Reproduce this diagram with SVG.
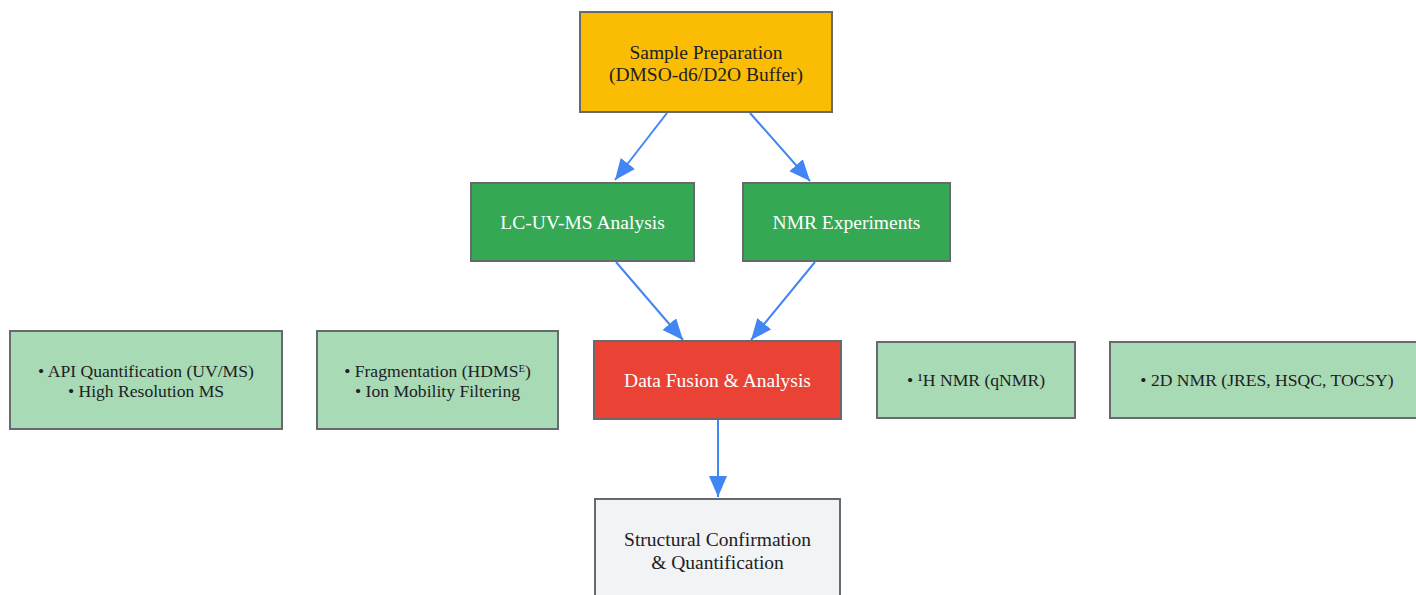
<svg xmlns="http://www.w3.org/2000/svg" width="1416" height="595" viewBox="0 0 1416 595">
<style>
.box{stroke:#666a6e;stroke-width:2}
.t{font-family:"Liberation Serif","Times New Roman",serif;font-size:19.5px;text-anchor:middle;fill:#202124}
.s{font-family:"Liberation Serif","Times New Roman",serif;font-size:17.6px;text-anchor:middle;fill:#202124}
.w{fill:#ffffff}
.edge{stroke:#4285F4;stroke-width:2;fill:none;marker-end:url(#arr)}
</style>
<defs>
<marker id="arr" markerUnits="userSpaceOnUse" markerWidth="24" markerHeight="20" refX="21" refY="9" orient="auto">
<path d="M0,0 L21,9 L0,18 z" fill="#4285F4"/>
</marker>
</defs>
<rect width="1416" height="595" fill="#ffffff"/>
<g id="connectors">
<line class="edge" x1="667" y1="113" x2="615" y2="180"/>
<line class="edge" x1="750" y1="113" x2="810" y2="181"/>
<line class="edge" x1="616" y1="262" x2="683" y2="340"/>
<line class="edge" x1="815" y1="262" x2="751" y2="340"/>
<line class="edge" x1="718" y1="420" x2="718" y2="497"/>
</g>
<g id="sample">
<rect class="box" x="580" y="12" width="252" height="100" fill="#FBBC04"/>
<text class="t" x="706" y="59">Sample Preparation</text>
<text class="t" x="706" y="81">(DMSO-d6/D2O Buffer)</text>
</g>
<g id="lcms">
<rect class="box" x="471" y="183" width="223" height="78" fill="#34A853"/>
<text class="t w" x="582.5" y="229">LC-UV-MS Analysis</text>
</g>
<g id="nmr">
<rect class="box" x="743" y="183" width="207" height="78" fill="#34A853"/>
<text class="t w" x="846.5" y="229">NMR Experiments</text>
</g>
<g id="fusion">
<rect class="box" x="594" y="341" width="247" height="78" fill="#EA4335"/>
<text class="t w" x="717.5" y="387">Data Fusion &amp; Analysis</text>
</g>
<g id="result">
<rect class="box" x="595" y="499" width="245" height="110" fill="#F1F3F4"/>
<text class="t" x="717.5" y="546">Structural Confirmation</text>
<text class="t" x="717.5" y="569">&amp; Quantification</text>
</g>
<g id="lcms-detail1">
<rect class="box" x="10" y="331" width="272" height="98" fill="#A8DAB5"/>
<text class="s" x="146" y="377">• API Quantification (UV/MS)</text>
<text class="s" x="146" y="397">• High Resolution MS</text>
</g>
<g id="lcms-detail2">
<rect class="box" x="317" y="331" width="241" height="98" fill="#A8DAB5"/>
<text class="s" x="437.5" y="377">• Fragmentation (HDMSᴱ)</text>
<text class="s" x="437.5" y="397">• Ion Mobility Filtering</text>
</g>
<g id="nmr-detail1">
<rect class="box" x="877" y="342" width="198" height="76" fill="#A8DAB5"/>
<text class="s" x="976" y="386">• ¹H NMR (qNMR)</text>
</g>
<g id="nmr-detail2">
<rect class="box" x="1110" y="342" width="320" height="76" fill="#A8DAB5"/>
<text class="s" x="1267" y="386">• 2D NMR (JRES, HSQC, TOCSY)</text>
</g>
</svg>
